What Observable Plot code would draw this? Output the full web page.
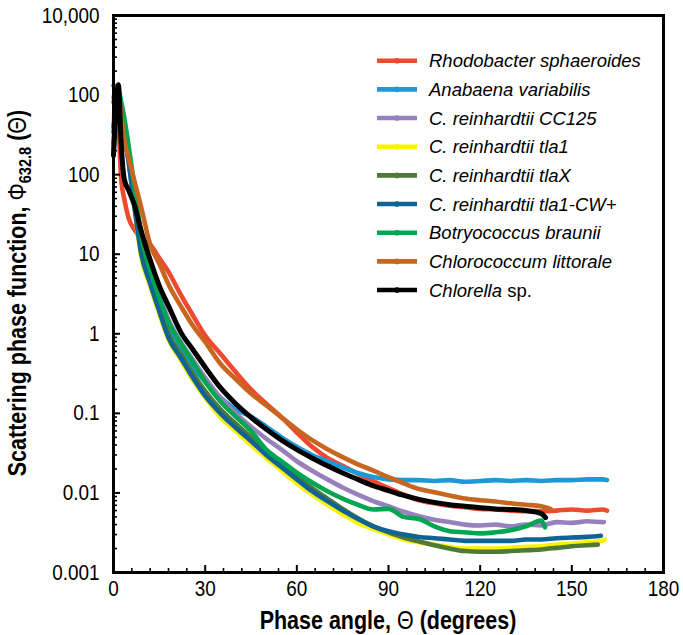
<!DOCTYPE html>
<html><head><meta charset="utf-8">
<script src="https://cdn.jsdelivr.net/npm/d3@7"></script>
<script src="https://cdn.jsdelivr.net/npm/@observablehq/plot@0.6"></script>
<style>body{margin:0;background:#fff}</style>
</head><body><div id="chart"></div>
<script>
// ---- data ----
const angles = [0,0.8,1.6,2.5,3.5,5,7,9,12,15,18,22,26,30,35,40,45,50,55,60,65,70,75,80,85,90,95,100,105,110,115,120,125,130,135,140,145,150,155,160];

const seriesNames = ["Rhodobacter sphaeroides","Anabaena variabilis","C. reinhardtii CC125","C. reinhardtii tla1","C. reinhardtii tlaX","C. reinhardtii tla1-CW+","Botryococcus braunii","Chlorococcum littorale","Chlorella sp."];
const legendItalic = ["Rhodobacter sphaeroides","Anabaena variabilis","C. reinhardtii CC125","C. reinhardtii tla1","C. reinhardtii tlaX","C. reinhardtii tla1-CW+","Botryococcus braunii","Chlorococcum littorale","Chlorella"];
const seriesColors = ["#ef4930","#1b9ad7","#9880bd","#fff200","#4f7a36","#0f6396","#00a651","#c8651f","#000000"];
const endAngles = [161.5,161.5,160.5,160.8,158.5,159.5,141.2,143,141.4];

const rhodobacter = [813,1000,501,89,50,28,20,15.8,13.2,8.9,6.0,3.1,1.7,0.95,0.56,0.33,0.20,0.132,0.089,0.0575,0.038,0.0275,0.0219,0.0174,0.0141,0.0115,0.0095,0.0081,0.0074,0.0069,0.0066,0.0063,0.0062,0.0060,0.0059,0.0059,0.0060,0.0062,0.0060,0.0062,0.0060];
const anabaena = [1320,1260,1000,631,355,141,39.8,12.0,5.0,2.29,1.2,0.63,0.38,0.25,0.158,0.112,0.091,0.068,0.050,0.038,0.030,0.025,0.0209,0.0178,0.0158,0.0148,0.0145,0.0145,0.0141,0.0145,0.0138,0.0141,0.0145,0.0141,0.0145,0.0141,0.0145,0.0145,0.0148,0.0148,0.0145];
const cc125 = [933,1120,1120,708,398,178,56,17.8,7.1,3.16,1.51,0.79,0.47,0.28,0.158,0.1,0.068,0.048,0.035,0.025,0.019,0.0148,0.0117,0.0095,0.0079,0.0068,0.0058,0.0051,0.0046,0.0043,0.0040,0.0039,0.0040,0.0038,0.0040,0.0039,0.0043,0.0042,0.0044,0.0043,0.0043];
const tla1 = [501,891,1000,708,447,158,35.5,9.55,3.98,1.78,0.85,0.47,0.26,0.158,0.089,0.060,0.040,0.0275,0.019,0.0132,0.0095,0.0071,0.0054,0.0042,0.0035,0.0030,0.0026,0.0024,0.00224,0.0021,0.0020,0.0020,0.0020,0.00204,0.0021,0.00214,0.00224,0.0023,0.0024,0.0025,0.0026];
const tlaX = [251,708,1000,759,447,178,44.7,12.6,5.0,2.14,1.0,0.56,0.316,0.19,0.112,0.074,0.050,0.034,0.0234,0.0162,0.0115,0.0085,0.0063,0.0048,0.0038,0.0032,0.00275,0.00245,0.0022,0.0020,0.00186,0.00182,0.00182,0.00186,0.0019,0.00195,0.00204,0.00214,0.0022,0.00224];
const tla1CW = [398,794,1120,708,355,141,35.5,10.5,4.27,1.91,0.89,0.50,0.28,0.166,0.1,0.066,0.045,0.030,0.021,0.0148,0.0105,0.0079,0.0060,0.0047,0.0038,0.0033,0.0030,0.0028,0.0027,0.0026,0.0025,0.0025,0.0025,0.0025,0.0026,0.0026,0.0027,0.00275,0.0028,0.0029];
const botryococcus = [339,794,1120,832,525,224,63,17.8,6.3,2.8,1.41,0.76,0.44,0.25,0.141,0.091,0.060,0.035,0.025,0.018,0.0135,0.0105,0.0085,0.0071,0.0062,0.0063,0.0050,0.0047,0.0038,0.0033,0.0032,0.0031,0.0032,0.0034,0.0038,0.0045,0.0037];
const chlorococcum = [200,501,1000,562,282,158,79,39.8,13.2,7.6,4.17,2.24,1.26,0.79,0.42,0.27,0.178,0.126,0.089,0.063,0.046,0.0355,0.0282,0.0229,0.0191,0.0158,0.0132,0.0112,0.0102,0.0093,0.0085,0.0081,0.0078,0.0074,0.0071,0.0068,0.0063];
const chlorella = [174,631,1350,251,89,63,39.8,20,8.5,4.0,2.24,1.05,0.63,0.38,0.21,0.132,0.089,0.063,0.046,0.035,0.0275,0.0219,0.0178,0.0148,0.0123,0.0107,0.0093,0.0083,0.0076,0.0071,0.0068,0.0065,0.0063,0.0062,0.0060,0.0055,0.0049];

const yTicks = [0.001,0.01,0.1,1,10,100,1000,10000];
const yTickLabels = ["0.001","0.01","0.1","1","10","100","100","10,000"];
const xTicks = [0,30,60,90,120,150,180];
const xTickLabels = ["0","30","60","90","120","150","180"];

// ---- build table ----
const allValues = [rhodobacter, anabaena, cc125, tla1, tlaX, tla1CW, botryococcus, chlorococcum, chlorella];
const series = seriesNames.map((name, s) => {
  const vals = allValues[s];
  return vals.map((v, i) => ({name, angle: i < vals.length - 1 ? angles[i] : endAngles[s], value: v}));
});

const W = 683, H = 635, mL = 113, mR = 20, mT = 15, mB = 63;
const plotW = W - mL - mR, plotH = H - mT - mB;

const yMinor = [];
for (let k = -3; k < 4; k++) for (let m = 2; m < 10; m++) yMinor.push(+(m * Math.pow(10, k)).toPrecision(3));
const xMinor = d3.range(6, 180, 6).filter(d => d % 30 !== 0);

const yLab = new Map(yTicks.map((t, i) => [t, yTickLabels[i]]));
const xLab = new Map(xTicks.map((t, i) => [t, xTickLabels[i]]));

const chart = Plot.plot({
  width: W, height: H,
  marginLeft: mL, marginRight: mR, marginTop: mT, marginBottom: mB,
  style: {fontFamily: "'Liberation Sans', Arial, sans-serif", fontSize: "22px", color: "black", background: "white", overflow: "visible"},
  x: {domain: [0, 180], ticks: xTicks, tickFormat: d => xLab.get(d), tickSize: 0, tickPadding: 8, label: null},
  y: {type: "log", domain: [0.001, 10000], ticks: yTicks, tickFormat: d => yLab.get(d), tickSize: 0, tickPadding: 14, label: null},
  marks: [
    ...series.map((rows, s) => Plot.line(rows, {x: "angle", y: "value", stroke: seriesColors[s], strokeWidth: s === 8 ? 5 : 4.6, curve: "monotone-x"})),
    Plot.tickY(yMinor, {y: d => d, insetRight: plotW - 4, stroke: "black", strokeWidth: 1.6}),
    Plot.tickY(yTicks, {y: d => d, insetRight: plotW - 7, stroke: "black", strokeWidth: 2}),
    Plot.tickX(xMinor, {x: d => d, insetTop: plotH - 4, stroke: "black", strokeWidth: 1.6}),
    Plot.tickX(xTicks, {x: d => d, insetTop: plotH - 7, stroke: "black", strokeWidth: 2}),
    Plot.frame({stroke: "black", strokeWidth: 3})
  ]
});
document.getElementById("chart").appendChild(chart);

const svg = d3.select(chart.tagName.toLowerCase() === "svg" ? chart : chart.querySelector("svg"));

// narrow the tick-label glyphs horizontally (reference uses a condensed face)
svg.selectAll("text").each(function () {
  const tr = this.getAttribute("transform");
  if (tr && !this.hasAttribute("x")) {
    this.setAttribute("transform", tr + " scale(0.86,1)");
  } else {
    const L = this.getComputedTextLength();
    if (L > 0) { this.setAttribute("textLength", (L * 0.86).toFixed(1)); this.setAttribute("lengthAdjust", "spacingAndGlyphs"); }
  }
});

// y-axis title
const yt = svg.append("text")
  .attr("transform", "translate(26,293) rotate(-90) scale(0.86,1)")
  .attr("text-anchor", "middle")
  .attr("font-size", "25px").attr("font-weight", "bold").attr("fill", "black");
yt.append("tspan").text("Scattering phase function, ");
yt.append("tspan").attr("font-weight", "normal").text("Φ");
yt.append("tspan").attr("font-size", "17px").attr("dy", 5).text("632.8");
yt.append("tspan").attr("dy", -5).text(" (");
yt.append("tspan").attr("font-weight", "normal").text("Θ");
yt.append("tspan").text(")");

// x-axis title
const xt = svg.append("text")
  .attr("transform", `translate(${(mL + W - mR) / 2},629) scale(0.86,1)`)
  .attr("text-anchor", "middle")
  .attr("font-size", "25px").attr("font-weight", "bold").attr("fill", "black");
xt.append("tspan").text("Phase angle, ");
xt.append("tspan").attr("font-weight", "normal").text("Θ");
xt.append("tspan").text(" (degrees)");

// legend
const lg = svg.append("g").attr("text-anchor", "start");
seriesNames.forEach((n, i) => {
  const y = 60.7 + i * 28.67;
  lg.append("line").attr("x1", 377).attr("x2", 417).attr("y1", y).attr("y2", y)
    .attr("stroke", seriesColors[i]).attr("stroke-width", 4.6);
  lg.append("circle").attr("cx", 397).attr("cy", y).attr("r", 2.8).attr("fill", seriesColors[i]);
  const t = lg.append("text").attr("x", 429).attr("y", y + 6.6)
    .attr("text-anchor", "start")
    .attr("font-size", "18.5px").attr("fill", "black");
  t.append("tspan").attr("font-style", "italic").text(legendItalic[i]);
  const rest = n.slice(legendItalic[i].length);
  if (rest) t.append("tspan").text(rest);
});
</script>
</body></html>
